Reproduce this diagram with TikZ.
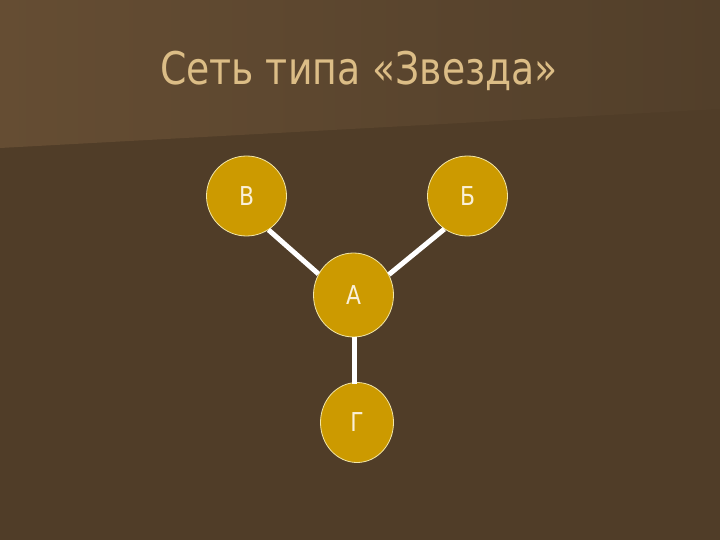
\documentclass[tikz,border=0pt]{standalone}
\usepackage{fontspec}
\setmainfont{DejaVu Sans}
\newfontfamily\narrowfont[FakeStretch=0.84]{DejaVu Sans}
\usetikzlibrary{shapes.geometric}
\definecolor{bgmain}{HTML}{503D28}
\definecolor{bgtopL}{HTML}{654D33}
\definecolor{bgtopR}{HTML}{523F2A}
\definecolor{titlecol}{HTML}{DCBD86}
\definecolor{gold}{HTML}{CC9A00}
\definecolor{rimcol}{HTML}{F2E6A8}
\definecolor{labelcol}{HTML}{FAF0D8}
\tikzset{
  x=1pt, y=-1pt,
  netnode/.style={ellipse, fill=gold, draw=rimcol, line width=0.8pt, inner sep=0pt,
    text=labelcol, font=\narrowfont\fontsize{26}{30}\selectfont},
  link/.style={draw=white, line width=5pt}
}
\begin{document}
\begin{tikzpicture}
\useasboundingbox (0,0) rectangle (720,540);
\fill[bgmain] (0,0) rectangle (720,540);
\shade[left color=bgtopL, right color=bgtopR] (0,0) -- (720,0) -- (720,109) -- (0,148) -- cycle;
\node[text=titlecol, font=\narrowfont\fontsize{45}{50}\selectfont, anchor=base, inner sep=0pt] (title) at (359,85) {Сеть типа «Звезда»};
\node[netnode, minimum width=80pt, minimum height=80pt] (V) at (246.5,196) {В};
\node[netnode, minimum width=80pt, minimum height=80pt] (B) at (467.5,196) {Б};
\node[netnode, minimum width=80pt, minimum height=84pt] (A) at (353.5,295) {А};
\node[netnode, minimum width=73pt, minimum height=80pt] (G) at (357,422.5) {Г};
\coordinate (Gtop) at ([yshift=-2pt]A.south |- G.north);
\draw[link] (V.-57) -- (A.149);
\draw[link] (B.-125) -- (A.30);
\draw[link] ([xshift=1pt]A.south) -- ([xshift=1pt]Gtop);
\end{tikzpicture}
\end{document}
